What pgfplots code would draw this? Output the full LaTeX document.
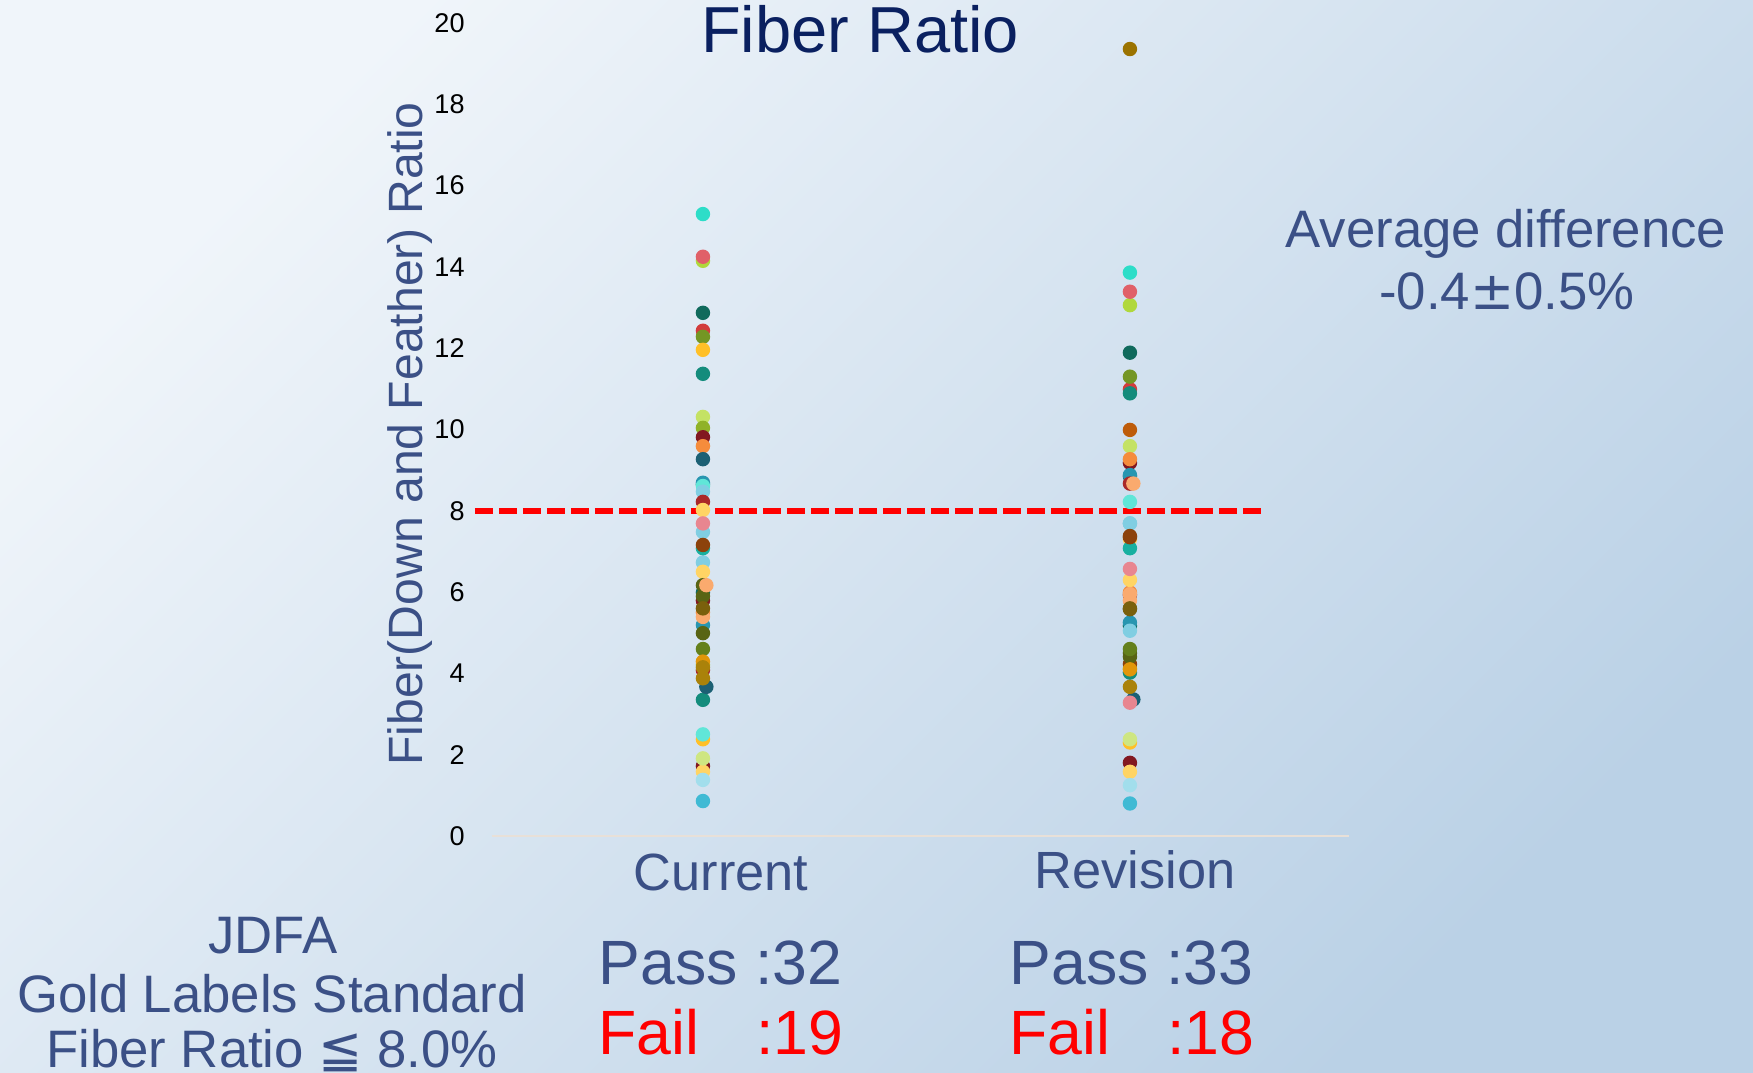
\documentclass[border=0pt]{standalone}
\usepackage{pgfplots}
\pgfplotsset{compat=1.18}
\usepackage{fontspec}
\setmainfont{Liberation Sans}
\newfontfamily\djv{DejaVu Sans}

\definecolor{bgA}{RGB}{240,245,250}
\definecolor{bgB}{RGB}{186,209,230}
\definecolor{txt}{RGB}{59,80,134}
\definecolor{ttl}{RGB}{10,32,96}
\definecolor{baseln}{RGB}{232,224,216}

\definecolor{cTurq}{RGB}{45,221,200}
\definecolor{cPinkRed}{RGB}{224,96,104}
\definecolor{cLime}{RGB}{176,216,60}
\definecolor{cDkTeal}{RGB}{16,106,92}
\definecolor{cRed}{RGB}{210,60,60}
\definecolor{cOlive}{RGB}{116,150,36}
\definecolor{cAmber}{RGB}{255,192,40}
\definecolor{cTeal}{RGB}{20,140,124}
\definecolor{cLtLime}{RGB}{196,226,100}
\definecolor{cOliveG}{RGB}{144,178,40}
\definecolor{cDkRed}{RGB}{130,24,32}
\definecolor{cOrange}{RGB}{245,140,60}
\definecolor{cGray}{RGB}{200,200,200}
\definecolor{cBlueDk}{RGB}{28,96,116}
\definecolor{cBlueT}{RGB}{40,150,176}
\definecolor{cCyan}{RGB}{96,230,216}
\definecolor{cLtBlue}{RGB}{128,206,226}
\definecolor{cBrRed}{RGB}{170,40,40}
\definecolor{cYellow}{RGB}{255,212,100}
\definecolor{cPink}{RGB}{232,134,144}
\definecolor{cBrown}{RGB}{140,66,12}
\definecolor{cTeal2}{RGB}{24,176,160}
\definecolor{cPeach}{RGB}{250,170,110}
\definecolor{cOliveBr}{RGB}{122,96,12}
\definecolor{cDkOlive}{RGB}{88,100,20}
\definecolor{cOlive2}{RGB}{100,128,28}
\definecolor{cOrAmber}{RGB}{225,150,10}
\definecolor{cGolden}{RGB}{170,130,10}
\definecolor{cPaleLime}{RGB}{206,230,130}
\definecolor{cPaleBlue}{RGB}{162,222,236}
\definecolor{cBlue}{RGB}{64,186,212}
\definecolor{cOrBrown}{RGB}{190,92,10}
\definecolor{cGoldDk}{RGB}{155,115,0}

\pgfplotsset{dot/.style={only marks, mark=*, mark size=1.85pt, color=#1}}

\begin{document}
\begin{tikzpicture}[x=0.1mm, y=0.1mm]
\path[use as bounding box] (0,0) rectangle (1753,1072);
\shade[top color=bgA, bottom color=bgB, shading angle=45] (0,0) rectangle (1753,1072);

\begin{axis}[
    at={(49.2mm,23.6mm)}, anchor=south west,
    scale only axis, width=85.7mm, height=81.3mm,
    xmin=-0.494, xmax=1.513, ymin=0, ymax=20,
    axis lines*=left,
    y axis line style={draw=none},
    x axis line style={draw=baseln, line width=0.2mm},
    xtick=\empty,
    ytick={0,2,...,20},
    major tick length=0pt,
    yticklabel style={font=\fontsize{7.7}{9}\selectfont, text=black, xshift=-1.5mm},
    /pgf/number format/assume math mode=true,
    clip=false,
]
% threshold 8.0
\addplot[red, line width=0.6mm, dash pattern=on 1.8mm off 0.6mm] coordinates {(-0.534,8) (1.307,8)};

% Current (x=0) and Revision (x=1), grouped by colour
\addplot[dot=cGray] coordinates {(0,9.6) (1,9.27)};
\addplot[dot=cLime] coordinates {(0,14.15) (0,4.21) (1,13.06) (1,4.12)};
\addplot[dot=cPinkRed] coordinates {(0,14.25) (1,13.39)};
\addplot[dot=cTurq] coordinates {(0,15.30) (1,13.86)};
\addplot[dot=cDkTeal] coordinates {(0,12.87) (0,5.99) (1,11.89) (1,5.17)};
\addplot[dot=cRed] coordinates {(0,12.43) (1,10.99)};
\addplot[dot=cOlive] coordinates {(0,12.28) (1,11.30)};
\addplot[dot=cAmber] coordinates {(0,11.96) (0,2.38) (1,2.30)};
\addplot[dot=cTeal] coordinates {(0,11.37) (0,8.65) (0,3.35) (1,10.89) (1,4.02)};
\addplot[dot=cLtLime] coordinates {(0,10.31) (1,9.59)};
\addplot[dot=cOliveG] coordinates {(0,10.04)};
\addplot[dot=cDkRed] coordinates {(0,9.81) (0,5.79) (0,1.72) (1,9.18) (1,5.93) (1,1.80)};
\addplot[dot=cOrange] coordinates {(0,9.59) (0,5.5) (1,9.27) (1,5.99)};
\addplot[dot=cBlueDk] coordinates {(0,9.27) (0.008,3.67) (1,8.85) (1.008,3.36)};
\addplot[dot=cBlueT] coordinates {(0,8.69) (0,5.19) (1,8.88) (1,5.25)};
\addplot[dot=cCyan] coordinates {(0,8.61) (0,2.50) (1,8.22)};
\addplot[dot=cLtBlue] coordinates {(0,8.47) (0,7.48) (0,6.73) (1,7.69) (1,7.69) (1,5.05)};
\addplot[dot=cBrRed] coordinates {(0,8.22) (0,4.08) (1,8.67)};
\addplot[dot=cYellow] coordinates {(0,8.02) (0,6.50) (0,1.58) (1,7.30) (1,6.30) (1,1.58)};
\addplot[dot=cPink] coordinates {(0,7.69) (1,6.57) (1,3.28)};
\addplot[dot=cTeal2] coordinates {(0,7.08) (1,7.08)};
\addplot[dot=cBrown] coordinates {(0,7.16) (1,7.38) (1,7.35) (1,4.23)};
\addplot[dot=cDkOlive] coordinates {(0,6.17) (0,5.9) (0,4.99) (1,4.41) (1,4.5)};
\addplot[dot=cPeach] coordinates {(0.008,6.17) (0,5.39) (1.008,8.67) (1,5.79) (1,5.95)};
\addplot[dot=cOliveBr] coordinates {(0,5.60) (1,5.58) (1,5.6)};
\addplot[dot=cOlive2] coordinates {(0,4.60) (1,4.60)};
\addplot[dot=cOrAmber] coordinates {(0,4.29) (1,4.1)};
\addplot[dot=cGolden] coordinates {(0,3.88) (0,4.15) (1,3.67)};
\addplot[dot=cPaleLime] coordinates {(0,1.91) (1,2.38)};
\addplot[dot=cPaleBlue] coordinates {(0,1.38) (1,1.25)};
\addplot[dot=cBlue] coordinates {(0,0.86) (1,0.80)};
\addplot[dot=cOrBrown] coordinates {(1,9.99)};
\addplot[dot=cGoldDk] coordinates {(1,19.36)};
\end{axis}

\node[anchor=base, text=ttl, font=\fontsize{18.5}{22}\selectfont, inner sep=0pt] at (860,1019) {Fiber Ratio};
\node[rotate=90, text=txt, font=\fontsize{13.7}{16}\selectfont, inner sep=0pt] at (410,638) {Fiber(Down and Feather) Ratio};

\node[anchor=base, text=txt, font=\fontsize{14.9}{18}\selectfont, inner sep=0pt] at (721,182) {Current};
\node[anchor=base, text=txt, font=\fontsize{14.9}{18}\selectfont, inner sep=0pt] at (1135,184) {Revision};

\node[anchor=base west, text=txt, font=\fontsize{17.8}{20}\selectfont, inner sep=0pt] at (598,88) {Pass :32};
\node[anchor=base west, text=red, font=\fontsize{17.8}{20}\selectfont, inner sep=0pt] at (598,18) {Fail\hspace{0.91em}:19};
\node[anchor=base west, text=txt, font=\fontsize{17.8}{20}\selectfont, inner sep=0pt] at (1009,88) {Pass :33};
\node[anchor=base west, text=red, font=\fontsize{17.8}{20}\selectfont, inner sep=0pt] at (1009,18) {Fail\hspace{0.91em}:18};

\node[anchor=base, text=txt, font=\fontsize{15}{18}\selectfont, inner sep=0pt] at (1506,824) {Average difference};
\node[anchor=base, text=txt, font=\fontsize{15}{18}\selectfont, inner sep=0pt] at (1507,762) {-0.4{\djv ±}0.5\%};

\node[anchor=base, text=txt, font=\fontsize{15}{18}\selectfont, inner sep=0pt] at (273,119) {JDFA};
\node[anchor=base, text=txt, font=\fontsize{15}{18}\selectfont, inner sep=0pt] at (272,60) {Gold Labels Standard};
\node[anchor=base, text=txt, font=\fontsize{15}{18}\selectfont, inner sep=0pt] at (272,5) {Fiber Ratio {\djv ≦} 8.0\%};
\end{tikzpicture}
\end{document}
